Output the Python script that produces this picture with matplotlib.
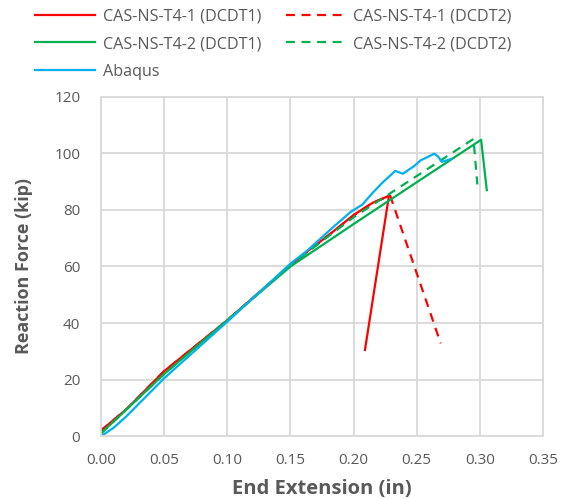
import matplotlib
matplotlib.use("Agg")
import matplotlib.pyplot as plt

plt.rcParams['font.family'] = ['Open Sans', 'DejaVu Sans']

# Test CAS-NS-T4-1, DCDT1 and DCDT2 records
t41_d1_x = [0.0, 0.02, 0.05, 0.10, 0.15, 0.163, 0.18, 0.20, 0.215, 0.228, 0.209]
t41_d1_f = [2.0, 9.5, 23.0, 41.0, 60.5, 65.2, 71.0, 78.2, 82.5, 85.0, 30.5]
t41_d2_x = [0.0, 0.02, 0.05, 0.10, 0.15, 0.163, 0.18, 0.20, 0.215, 0.229, 0.269]
t41_d2_f = [2.0, 9.5, 23.0, 41.0, 60.5, 65.0, 71.0, 78.0, 82.5, 85.0, 32.8]

# Test CAS-NS-T4-2, DCDT1 and DCDT2 records
t42_d1_x = [0.0, 0.05, 0.10, 0.15, 0.20, 0.248, 0.301, 0.3055]
t42_d1_f = [1.0, 22.0, 41.0, 60.0, 75.0, 89.2, 104.8, 87.0]
t42_d2_x = [0.0, 0.05, 0.10, 0.15, 0.20, 0.227, 0.248, 0.295, 0.298]
t42_d2_f = [1.0, 22.0, 41.0, 60.5, 77.4, 85.3, 91.4, 105.1, 89.0]

# Finite element prediction
abaqus_x = [0.0, 0.01, 0.02, 0.05, 0.10, 0.15, 0.163, 0.184, 0.198, 0.207,
            0.215, 0.223, 0.233, 0.239, 0.248, 0.253, 0.264, 0.267, 0.270, 0.277]
abaqus_f = [0.0, 3.0, 7.0, 20.5, 40.5, 61.0, 65.5, 74.0, 79.4, 81.9,
            86.0, 89.7, 93.8, 92.8, 95.5, 97.5, 99.9, 98.8, 97.0, 98.0]

x_ticks = [0.00, 0.05, 0.10, 0.15, 0.20, 0.25, 0.30, 0.35]
y_ticks = [0, 20, 40, 60, 80, 100, 120]

RED = '#ff0000'
GREEN = '#00b050'
BLUE = '#00b0f0'
GRID = '#d9d9d9'
TXT = '#595959'

fig = plt.figure(figsize=(5.65, 4.99), dpi=100)
ax = fig.add_axes([0.179, 0.126, 0.782, 0.680])

lw = 1.6
dash = (0, (4, 3))
h1, = ax.plot(t41_d1_x, t41_d1_f, color=RED, lw=lw, label='CAS-NS-T4-1 (DCDT1)')
h2, = ax.plot(t41_d2_x, t41_d2_f, color=RED, lw=lw, ls=dash, label='CAS-NS-T4-1 (DCDT2)')
h3, = ax.plot(t42_d1_x, t42_d1_f, color=GREEN, lw=lw, label='CAS-NS-T4-2 (DCDT1)')
h4, = ax.plot(t42_d2_x, t42_d2_f, color=GREEN, lw=lw, ls=dash, label='CAS-NS-T4-2 (DCDT2)')
h5, = ax.plot(abaqus_x, abaqus_f, color=BLUE, lw=lw, label='Abaqus')

ax.set_xlim(0, 0.35)
ax.set_ylim(0, 120)
ax.set_xticks(x_ticks)
ax.set_xticklabels([f'{v:.2f}' for v in x_ticks])
ax.set_yticks(y_ticks)
ax.grid(True, color=GRID, lw=1.3)
ax.set_axisbelow(True)
for s in ax.spines.values():
    s.set_color(GRID)
    s.set_linewidth(1.3)
ax.tick_params(length=0, labelsize=11, labelcolor=TXT)
ax.tick_params(axis='y', pad=15)
ax.tick_params(axis='x', pad=12)

ax.set_xlabel('End Extension (in)', fontsize=14.5, fontweight='bold', color=TXT, labelpad=8)
ax.set_ylabel('Reaction Force (kip)', fontsize=13, fontweight='bold', color=TXT, labelpad=15)

handles = [h1, h3, h5, h2, h4]
fig.legend(handles, [h.get_label() for h in handles], ncol=2, loc='upper left',
           bbox_to_anchor=(0.037, 1.012), frameon=False, fontsize=11.6,
           handlelength=3.7, handletextpad=0.5, columnspacing=1.5,
           labelspacing=0.72, labelcolor=TXT)

fig.savefig('out.png', dpi=100)
